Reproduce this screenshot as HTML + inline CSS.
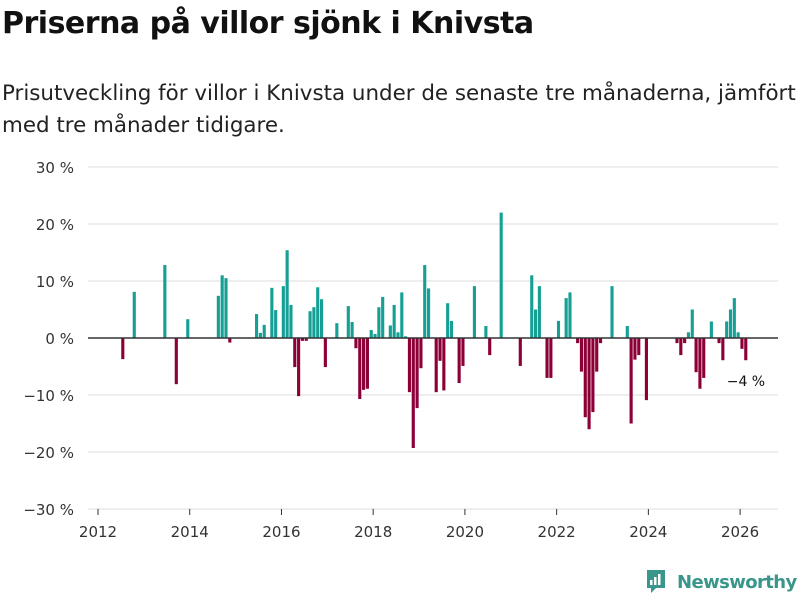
<!DOCTYPE html>
<html><head><meta charset="utf-8"><style>
body{margin:0;background:#fff;font-family:"DejaVu Sans","Liberation Sans",sans-serif;}
#wrap{position:relative;width:800px;height:600px;overflow:hidden;}
h1{position:absolute;left:2px;top:6px;margin:0;font-size:30px;font-weight:bold;color:#111;letter-spacing:-0.5px;}
p.sub{position:absolute;left:2px;top:78px;margin:0;font-size:21.4px;line-height:32px;color:#222;width:800px;}
</style></head><body>
<div id="wrap">
<h1>Priserna på villor sjönk i Knivsta</h1>
<p class="sub">Prisutveckling för villor i Knivsta under de senaste tre månaderna, jämfört med tre månader tidigare.</p>
<svg id="chart" width="800" height="600" style="position:absolute;left:0;top:0"></svg>
<div style="position:absolute;left:645px;top:569px;display:flex;align-items:center;">
<svg width="22" height="26"><path d="M2 1h18v18h-9l-5 5v-5H2z" fill="#3a968a"/><rect x="5" y="11" width="2.5" height="5" fill="#fff"/><rect x="9" y="8" width="2.5" height="8" fill="#fff"/><rect x="13" y="5" width="2.5" height="11" fill="#fff"/></svg>
<span style="margin-left:10px;font-size:18px;color:#3a968a;font-weight:bold;font-family:'DejaVu Sans',sans-serif;letter-spacing:-0.6px">Newsworthy</span>
</div>
</div>
<script>
const monthIdx=[6,9,17,20,23,31,32,33,34,41,42,43,45,46,48,49,50,51,52,53,54,55,56,57,58,59,62,65,66,67,68,69,70,71,72,73,74,76,77,78,79,80,81,82,83,84,85,86,88,89,90,91,92,94,95,98,101,102,105,110,113,114,115,117,118,120,122,123,125,126,127,128,129,130,131,134,138,139,140,141,143,151,152,153,154,155,156,157,158,160,162,163,164,165,166,167,168,169];
const values=[-3.7,8.1,12.8,-8.1,3.3,7.4,11,10.5,-0.8,4.2,0.9,2.3,8.8,4.9,9.1,15.4,5.8,-5.1,-10.2,-0.5,-0.5,4.7,5.4,8.9,6.8,-5.1,2.6,5.6,2.8,-1.8,-10.7,-9.1,-8.9,1.4,0.7,5.4,7.2,2.2,5.8,1.0,8.0,0.3,-9.5,-19.3,-12.3,-5.3,12.8,8.7,-9.5,-4.0,-9.2,6.1,3.0,-7.9,-4.9,9.1,2.1,-3.0,22.0,-4.9,11.0,5.0,9.1,-7.0,-7.0,3.0,7.0,8.0,-0.9,-5.9,-13.9,-16.0,-13.0,-5.9,-0.9,9.1,2.1,-15.0,-3.8,-3.0,-10.9,-0.9,-3.0,-0.9,1.0,5.0,-6.0,-8.9,-7.0,2.9,-0.9,-3.9,2.9,5.0,7.0,1.0,-1.9,-3.9];
const yTicks=[30,20,10,0,-10,-20,-30];
const yTickLabels=["30 %","20 %","10 %","0 %","−10 %","−20 %","−30 %"];
const xYears=[2012,2014,2016,2018,2020,2022,2024,2026];
const lastLabel="−4 %";

const NS="http://www.w3.org/2000/svg";
const svg=document.getElementById('chart');
const step=3.822;
const x=m=>98+m*step;
const y=v=>338-v*5.7;
function mk(tag,attrs){const e=document.createElementNS(NS,tag);for(const k in attrs)e.setAttribute(k,attrs[k]);svg.appendChild(e);return e;}
yTicks.forEach((t,i)=>{
  if(t!==0){const g=mk('line',{x1:88,x2:778,y1:y(t),y2:y(t),stroke:'#dedede','stroke-width':1});
  
  }
  const l=mk('text',{x:74,y:y(t)+6,'text-anchor':'end','font-size':15,fill:'#333','font-family':'DejaVu Sans, sans-serif'});
  l.textContent=yTickLabels[i];
  
  
});
xYears.forEach(yr=>{
  const xx=x((yr-2012)*12);
  const t=mk('line',{x1:xx,x2:xx,y1:509,y2:515,stroke:'#333','stroke-width':1});
  
  
  const l=mk('text',{x:xx,y:537,'text-anchor':'middle','font-size':15,fill:'#333','font-family':'DejaVu Sans, sans-serif'});
  l.textContent=yr;
  
  
});
monthIdx.forEach((m,i)=>{
  const v=values[i];
  const r=mk('rect',{x:x(m)+0.3,width:step*0.82,y:Math.min(y(v),y(0)),height:Math.abs(y(v)-y(0)),fill:v>=0?'#16a095':'#8c0037'});
  
  
});
const z=mk('line',{x1:88,x2:778,y1:y(0),y2:y(0),stroke:'#333','stroke-width':1.5});


const lm=monthIdx[monthIdx.length-1];
const a=mk('text',{x:x(lm)+2,y:y(values[values.length-1])+26,'text-anchor':'middle','font-size':14,fill:'#111','font-family':'DejaVu Sans, sans-serif'});
a.textContent=lastLabel;


</script>
</body></html>
